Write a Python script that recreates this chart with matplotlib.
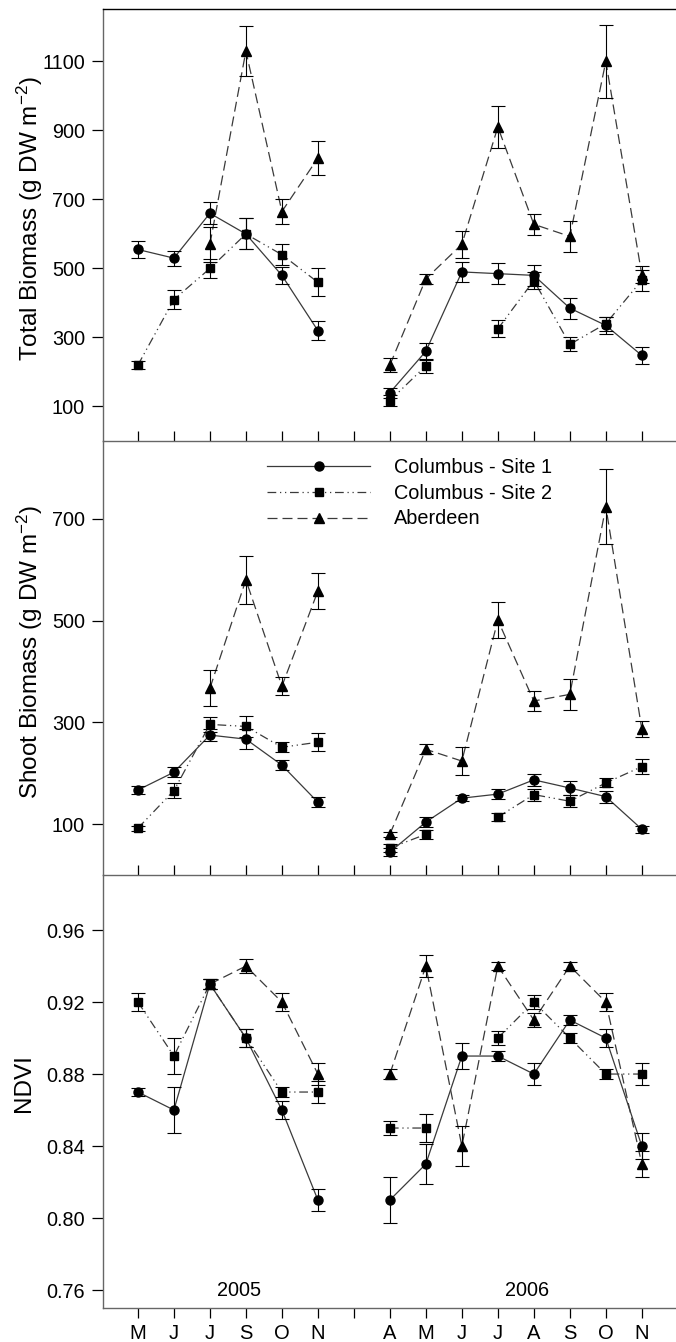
import numpy as np
import matplotlib
matplotlib.use("Agg")
import matplotlib.pyplot as plt
from matplotlib import rcParams
from matplotlib.lines import Line2D

nan = np.nan

# ==================================
# data
# ==================================

months_2005 = ["M", "J", "J", "S", "O", "N"]
months_2006 = ["A", "M", "J", "J", "A", "S", "O", "N"]
site_names = ["Columbus - Site 1", "Columbus - Site 2", "Aberdeen"]

total_site1_2005 = [555, 530, 660, 600, 480, 320]
total_site1_2005_err = [25, 22, 32, 45, 25, 28]
total_site2_2005 = [220, 410, 500, 600, 540, 460]
total_site2_2005_err = [12, 28, 28, 45, 30, 40]
total_aber_2005 = [nan, nan, 570, 1130, 665, 820]
total_aber_2005_err = [nan, nan, 50, 72, 35, 50]
total_site1_2006 = [140, 260, 490, 485, 480, 385, 335, 248]
total_site1_2006_err = [15, 25, 30, 30, 30, 30, 25, 25]
total_site2_2006 = [117, 218, nan, 325, 465, 280, 340, 466]
total_site2_2006_err = [15, 20, nan, 25, 25, 20, 20, 30]
total_aber_2006 = [220, 470, 570, 910, 628, 593, 1100, 482]
total_aber_2006_err = [20, 15, 40, 62, 30, 45, 105, 25]

shoot_site1_2005 = [167, 202, 275, 267, 216, 143]
shoot_site1_2005_err = [8, 10, 12, 20, 10, 10]
shoot_site2_2005 = [92, 166, 296, 292, 251, 261]
shoot_site2_2005_err = [5, 15, 15, 20, 10, 18]
shoot_aber_2005 = [nan, nan, 367, 580, 371, 558]
shoot_aber_2005_err = [nan, nan, 35, 47, 18, 35]
shoot_site1_2006 = [45, 104, 151, 159, 187, 171, 154, 90]
shoot_site1_2006_err = [8, 10, 6, 10, 12, 14, 12, 7]
shoot_site2_2006 = [53, 80, nan, 114, 158, 145, 181, 213]
shoot_site2_2006_err = [8, 9, nan, 8, 12, 12, 9, 15]
shoot_aber_2006 = [80, 247, 224, 501, 342, 355, 724, 287]
shoot_aber_2006_err = [5, 10, 27, 36, 20, 30, 73, 15]

ndvi_site1_2005 = [0.87, 0.86, 0.93, 0.90, 0.86, 0.81]
ndvi_site1_2005_err = [0.002, 0.013, 0.003, 0.005, 0.005, 0.006]
ndvi_site2_2005 = [0.92, 0.89, 0.93, 0.90, 0.87, 0.87]
ndvi_site2_2005_err = [0.005, 0.010, 0.003, 0.005, 0.003, 0.006]
ndvi_aber_2005 = [nan, nan, 0.93, 0.94, 0.92, 0.88]
ndvi_aber_2005_err = [nan, nan, 0.003, 0.004, 0.005, 0.006]
ndvi_site1_2006 = [0.81, 0.83, 0.89, 0.89, 0.88, 0.91, 0.90, 0.84]
ndvi_site1_2006_err = [0.013, 0.011, 0.007, 0.003, 0.006, 0.003, 0.005, 0.007]
ndvi_site2_2006 = [0.85, 0.85, nan, 0.90, 0.92, 0.90, 0.88, 0.88]
ndvi_site2_2006_err = [0.004, 0.008, nan, 0.004, 0.004, 0.003, 0.003, 0.006]
ndvi_aber_2006 = [0.88, 0.94, 0.84, 0.94, 0.91, 0.94, 0.92, 0.83]
ndvi_aber_2006_err = [0.003, 0.006, 0.011, 0.002, 0.004, 0.002, 0.005, 0.007]

# ==================================
# style
# ==================================

rcParams.update(
    {
        "font.family": ["Liberation Sans", "DejaVu Sans"],
        "font.size": 14.3,
        "mathtext.fontset": "custom",
        "mathtext.rm": "Liberation Sans",
        "mathtext.it": "Liberation Sans:italic",
        "figure.facecolor": "white",
        "axes.facecolor": "none",
    }
)

LINE_C = "#3a3a3a"
SPINE = "#666666"
TICK_FS = 14.3
LABEL_FS = 17.5
STYLES = [
    dict(marker="o", ms=6.5, ls="-"),
    dict(marker="s", ms=6.0, ls=(0, (7, 3, 1, 3, 1, 3))),
    dict(marker="^", ms=7.0, ls=(0, (8, 4))),
]

x_2005 = np.arange(len(months_2005))
x_2006 = np.arange(len(months_2006)) + len(months_2005) + 1
tick_pos = np.arange(len(months_2005) + 1 + len(months_2006))
tick_labels = months_2005 + [""] + months_2006

W, H = 676, 1342
fig = plt.figure(figsize=(W / 100, H / 100), dpi=100)


def px_axes(top, bottom, left=103, right=676):
    return fig.add_axes([left / W, 1 - bottom / H, (right - left) / W, (bottom - top) / H])


def draw_panel(ax, series):
    for idx, (y05, e05, y06, e06) in enumerate(series):
        st = STYLES[idx]
        for xs, ys, es in [(x_2005, y05, e05), (x_2006, y06, e06)]:
            ax.errorbar(xs, ys, yerr=es, fmt="none", ecolor="black",
                        elinewidth=0.8, capsize=5, capthick=0.8, zorder=3)
            ax.plot(xs, ys, color=LINE_C, lw=0.9, ls=st["ls"], zorder=2)
            ax.plot(xs, ys, ls="none", marker=st["marker"], ms=st["ms"],
                    color="black", zorder=4)


def style_panel(ax, ylim, yticks, ylabel, label_x, label_y=0.5, fmt=None,
                bottom=False, top_spine=False):
    ax.set_xlim(-0.97, 14.95)
    ax.set_ylim(*ylim)
    ax.set_yticks(yticks)
    if fmt:
        ax.set_yticklabels([fmt % v for v in yticks])
    ax.set_xticks(tick_pos)
    ax.spines["right"].set_visible(False)
    ax.spines["top"].set_visible(top_spine)
    for sp in ax.spines.values():
        sp.set_color(SPINE)
        sp.set_linewidth(1.0)
    ax.spines["top"].set_color("black")
    ax.tick_params(axis="y", direction="out", length=8, width=0.9, color="black",
                   labelsize=TICK_FS, pad=5)
    if bottom:
        ax.set_xticklabels(tick_labels)
        ax.tick_params(axis="x", direction="out", length=7.5, width=0.9, color="black",
                       labelsize=14.5, pad=4)
    else:
        ax.set_xticklabels([])
        ax.tick_params(axis="x", direction="in", length=7.5, width=0.9, color="black")
    ax.set_ylabel(ylabel, fontsize=LABEL_FS)
    ax.yaxis.set_label_coords((label_x - 103) / 573, label_y)


ax_top = px_axes(9, 441)
ax_mid = px_axes(441, 875)
ax_bot = px_axes(875, 1308)

draw_panel(ax_top, [
    (total_site1_2005, total_site1_2005_err, total_site1_2006, total_site1_2006_err),
    (total_site2_2005, total_site2_2005_err, total_site2_2006, total_site2_2006_err),
    (total_aber_2005, total_aber_2005_err, total_aber_2006, total_aber_2006_err),
])
draw_panel(ax_mid, [
    (shoot_site1_2005, shoot_site1_2005_err, shoot_site1_2006, shoot_site1_2006_err),
    (shoot_site2_2005, shoot_site2_2005_err, shoot_site2_2006, shoot_site2_2006_err),
    (shoot_aber_2005, shoot_aber_2005_err, shoot_aber_2006, shoot_aber_2006_err),
])
draw_panel(ax_bot, [
    (ndvi_site1_2005, ndvi_site1_2005_err, ndvi_site1_2006, ndvi_site1_2006_err),
    (ndvi_site2_2005, ndvi_site2_2005_err, ndvi_site2_2006, ndvi_site2_2006_err),
    (ndvi_aber_2005, ndvi_aber_2005_err, ndvi_aber_2006, ndvi_aber_2006_err),
])

style_panel(ax_top, (0, 1252), [100, 300, 500, 700, 900, 1100],
            "Total Biomass (g DW m$^{-2}$)", 45, 0.515, top_spine=True)
style_panel(ax_mid, (0, 853), [100, 300, 500, 700],
            "Shoot Biomass (g DW m$^{-2}$)", 45, 0.515)
style_panel(ax_bot, (0.75, 0.9906), [0.76, 0.80, 0.84, 0.88, 0.92, 0.96],
            "NDVI", 35, 0.52, fmt="%.2f", bottom=True)

ax_bot.text(2.8, 0.76, "2005", ha="center", va="center", fontsize=TICK_FS)
ax_bot.text(10.8, 0.76, "2006", ha="center", va="center", fontsize=TICK_FS)

handles = [
    Line2D([], [], color=LINE_C, lw=0.9, ls=st["ls"], marker=st["marker"],
           ms=st["ms"], mfc="black", mec="black")
    for st in STYLES
]
ax_mid.legend(handles, site_names, loc="upper left", bbox_to_anchor=(0.286, 0.96),
              frameon=False, handlelength=5.2, handletextpad=1.2, labelspacing=0.33,
              borderpad=0, borderaxespad=0, fontsize=TICK_FS, numpoints=1)

fig.savefig("out.png", dpi=100)
